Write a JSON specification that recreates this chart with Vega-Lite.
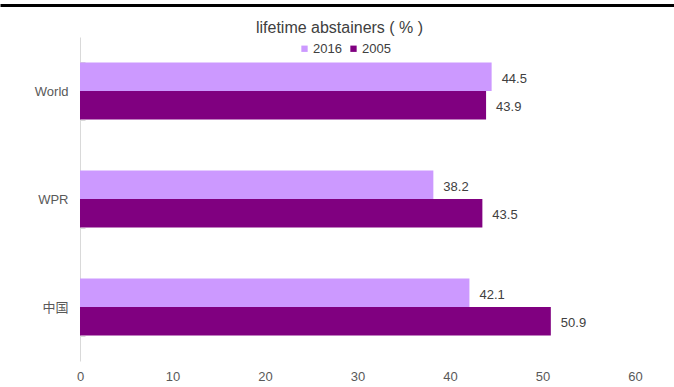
{
  "$schema": "https://vega.github.io/schema/vega-lite/v6.json",
  "background": "white",
  "width": 674,
  "height": 324,
  "autosize": {"type": "none"},
  "padding": {"left": 0, "top": 37, "right": 0, "bottom": 26},
  "config": {
    "font": "Liberation Sans, Noto Sans CJK SC, sans-serif",
    "view": {"stroke": null}
  },
  "data": {
    "values": [
      {"region": "World", "year": "2016", "value": 44.5},
      {"region": "World", "year": "2005", "value": 43.9},
      {"region": "WPR", "year": "2016", "value": 38.2},
      {"region": "WPR", "year": "2005", "value": 43.5},
      {"region": "中国", "year": "2016", "value": 42.1},
      {"region": "中国", "year": "2005", "value": 50.9}
    ]
  },
  "encoding": {
    "y": {
      "field": "region",
      "type": "nominal",
      "sort": ["World", "WPR", "中国"],
      "title": null,
      "scale": {"paddingInner": 0.472, "paddingOuter": 0.236},
      "axis": {
        "offset": -80,
        "domainColor": "#D9D9D9",
        "tickColor": "#D9D9D9",
        "tickBand": "extent",
        "tickSize": -5,
        "labelFontSize": 13,
        "labelColor": "#595959",
        "labelPadding": 17
      }
    },
    "yOffset": {"field": "year", "type": "nominal", "sort": ["2016", "2005"]}
  },
  "layer": [
    {
      "mark": {"type": "bar"},
      "encoding": {
        "x": {
          "field": "value",
          "type": "quantitative",
          "title": null,
          "scale": {"domain": [-8.6486, 64.2162], "nice": false, "zero": false},
          "axis": {
            "orient": "bottom",
            "values": [0, 10, 20, 30, 40, 50, 60],
            "domain": false,
            "ticks": false,
            "grid": false,
            "labelFontSize": 13,
            "labelColor": "#595959",
            "labelPadding": 9
          }
        },
        "color": {
          "field": "year",
          "type": "nominal",
          "sort": ["2016", "2005"],
          "scale": {"domain": ["2016", "2005"], "range": ["#CC99FF", "#800080"]},
          "legend": {
            "title": null,
            "orient": "none",
            "direction": "horizontal",
            "legendX": 298,
            "legendY": 5,
            "symbolType": "square",
            "symbolSize": 40,
            "symbolStrokeWidth": 0,
            "labelFontSize": 13,
            "labelColor": "#404040",
            "labelOffset": 2,
            "columnPadding": 5
          }
        }
      }
    },
    {
      "mark": {"type": "text", "align": "left", "baseline": "middle", "dx": 10, "dy": 2, "fontSize": 13, "color": "#404040"},
      "encoding": {
        "x": {
          "field": "value",
          "type": "quantitative",
          "axis": {
            "orient": "top",
            "offset": 32,
            "domainColor": "#000000",
            "domainWidth": 3,
            "ticks": false,
            "labels": false,
            "grid": false,
            "title": "lifetime abstainers ( % )",
            "titleFontSize": 16,
            "titleFontWeight": "normal",
            "titleColor": "#404040",
            "titleX": 339,
            "titleY": 22,
            "titleAlign": "center",
            "titleBaseline": "middle",
            "titleAnchor": "middle"
          }
        },
        "text": {"field": "value", "type": "quantitative", "format": ".1f"}
      }
    }
  ]
}
